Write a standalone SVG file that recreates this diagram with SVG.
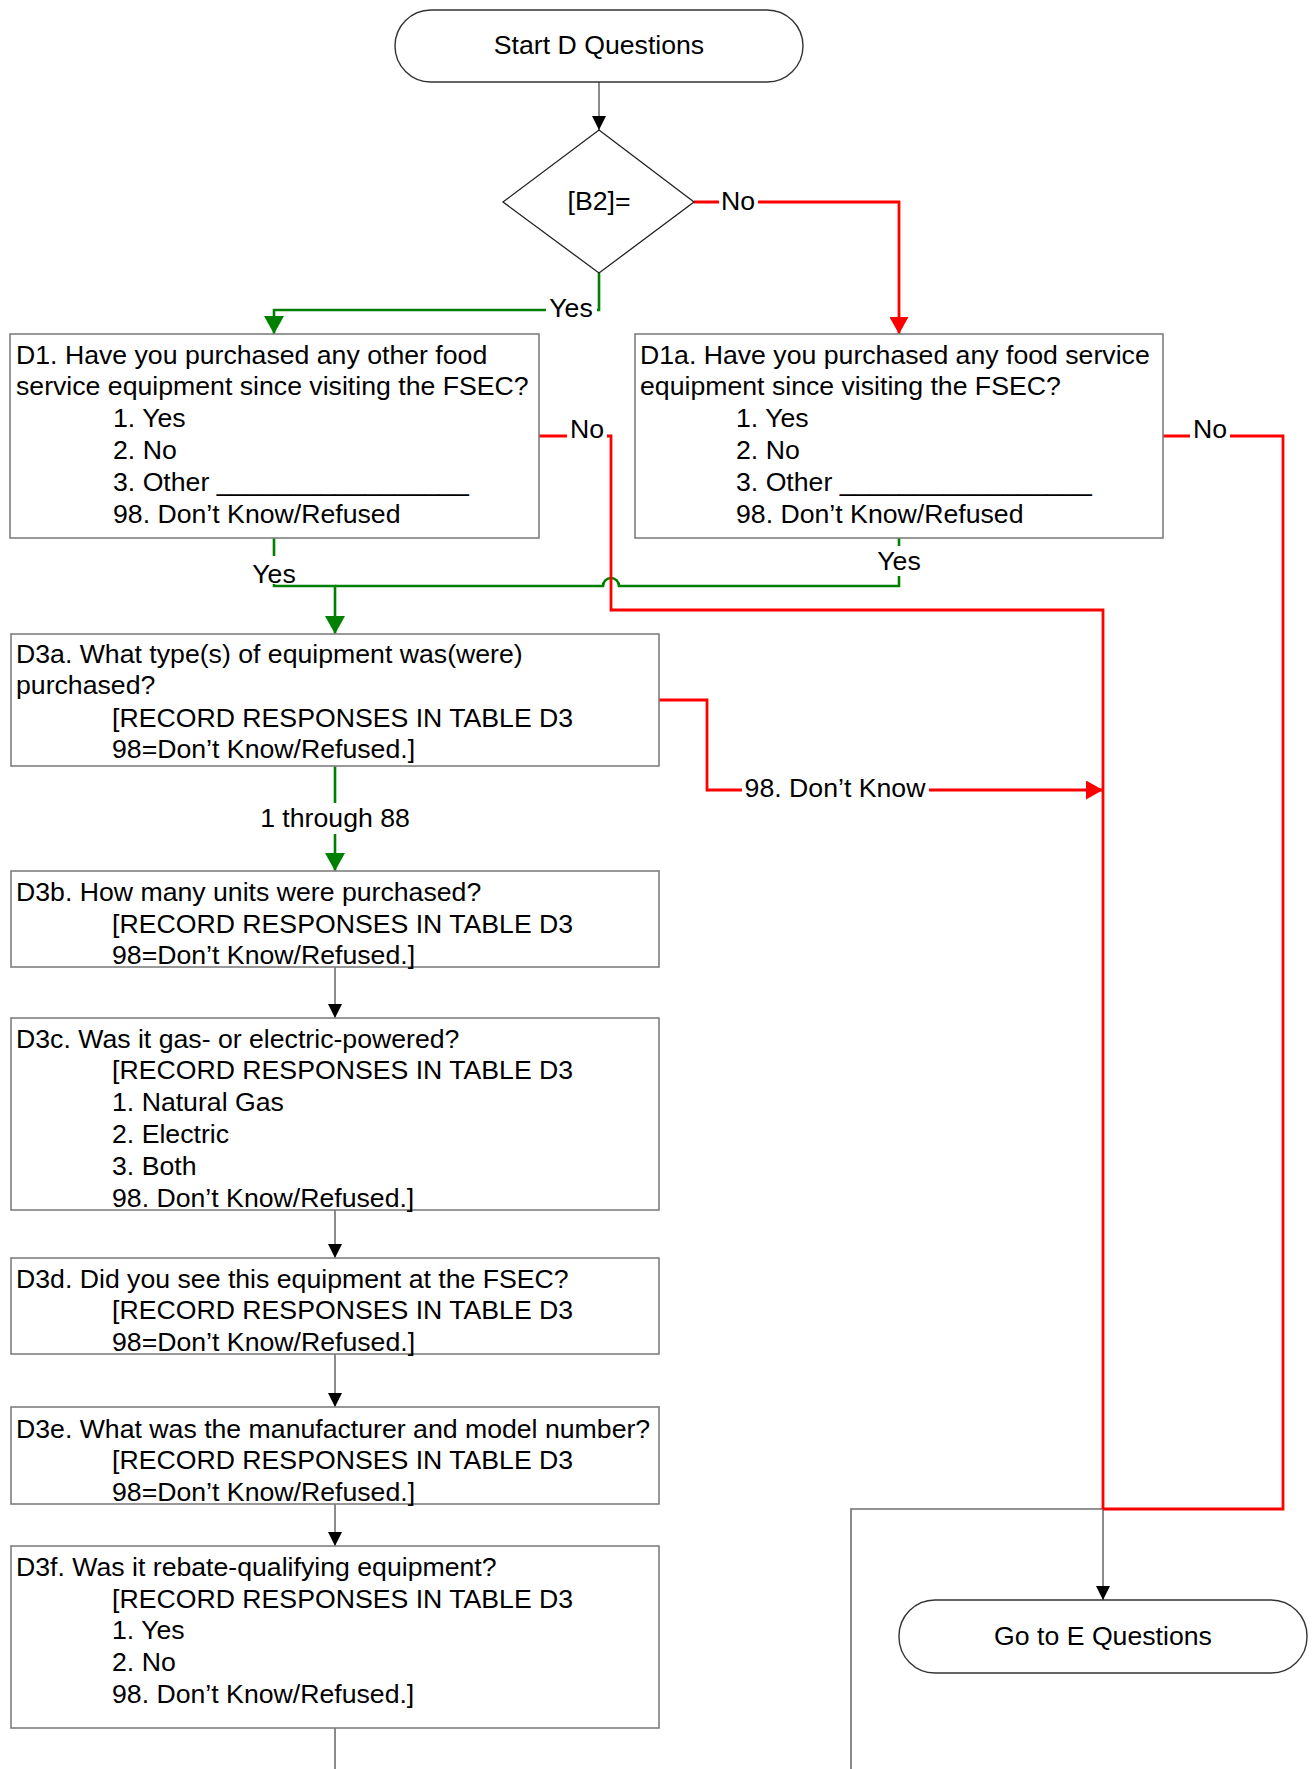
<svg xmlns="http://www.w3.org/2000/svg" width="1313" height="1769" viewBox="0 0 1313 1769">
  <style>
    text { font-family: "Liberation Sans", Arial, sans-serif; font-size: 26.67px; fill: #000; }
    .mid { text-anchor: middle; }
    .box { fill: #fff; stroke: #7f7f7f; stroke-width: 1.6; }
    .box-text { transform: translate(0px, 1px); }
    .term { fill: #fff; stroke: #333; stroke-width: 1.4; }
    .dia { fill: #fff; stroke: #222; stroke-width: 1.3; }
    .c-gray { fill: none; stroke: #6e6e6e; stroke-width: 1.6; }
    .c-red { fill: none; stroke: #ff0000; stroke-width: 2.8; }
    .c-green { fill: none; stroke: #008000; stroke-width: 2.6; }
    .lbl-bg { fill: #fff; }
  </style>
  <defs>
    <marker id="arr-black" viewBox="0 0 14 14" refX="14" refY="7" markerWidth="14" markerHeight="14" markerUnits="userSpaceOnUse" orient="auto">
      <path d="M0,0 L14,7 L0,14 z" fill="#000"/>
    </marker>
    <marker id="arr-red" viewBox="0 0 17 19" refX="17" refY="9.5" markerWidth="17" markerHeight="19" markerUnits="userSpaceOnUse" orient="auto">
      <path d="M0,0 L17,9.5 L0,19 z" fill="#ff0000"/>
    </marker>
    <marker id="arr-green" viewBox="0 0 18 20" refX="18" refY="10" markerWidth="18" markerHeight="20" markerUnits="userSpaceOnUse" orient="auto">
      <path d="M0,0 L18,10 L0,20 z" fill="#008000"/>
    </marker>
  </defs>

  <!-- connectors -->
  <g id="connectors">
    <!-- black flow -->
    <path class="c-gray" d="M599,82 V130" marker-end="url(#arr-black)"/>
    <path class="c-gray" d="M335,967 V1018" marker-end="url(#arr-black)"/>
    <path class="c-gray" d="M335,1210 V1258" marker-end="url(#arr-black)"/>
    <path class="c-gray" d="M335,1354 V1407" marker-end="url(#arr-black)"/>
    <path class="c-gray" d="M335,1504 V1546" marker-end="url(#arr-black)"/>
    <path class="c-gray" d="M335,1728 V1769"/>
    <path class="c-gray" d="M1103,1509 V1600" marker-end="url(#arr-black)"/>
    <path class="c-gray" d="M1103,1509 H851 V1769"/>

    <!-- green (yes) branches -->
    <path class="c-green" d="M599,273 V310 H274 V334" marker-end="url(#arr-green)"/>
    <path class="c-green" d="M274,538 V586 H335 V634" marker-end="url(#arr-green)"/>
    <path class="c-green" d="M899,538 V586 H619 A8,8 0 0 0 603,586 H335"/>
    <path class="c-green" d="M335,766 V871" marker-end="url(#arr-green)"/>

    <!-- red (no / don't know) branches -->
    <path class="c-red" d="M694,202 H899 V334" marker-end="url(#arr-red)"/>
    <path class="c-red" d="M539,436 H611 V610 H1103 V1509"/>
    <path class="c-red" d="M1163,436 H1283 V1509 H1103"/>
    <path class="c-red" d="M659,700 H707 V790 H1103" marker-end="url(#arr-red)"/>

    <!-- connector labels -->
    <rect class="lbl-bg" x="719" y="189" width="39" height="25"/>
    <text class="mid" x="738" y="210">No</text>
    <rect class="lbl-bg" x="546" y="296" width="51" height="24"/>
    <text class="mid" x="571" y="317">Yes</text>
    <rect class="lbl-bg" x="567" y="416" width="40" height="24"/>
    <text class="mid" x="587" y="438">No</text>
    <rect class="lbl-bg" x="1190" y="416" width="40" height="24"/>
    <text class="mid" x="1210" y="438">No</text>
    <rect class="lbl-bg" x="249" y="556" width="50" height="28"/>
    <text class="mid" x="274" y="583">Yes</text>
    <rect class="lbl-bg" x="874" y="546" width="50" height="30"/>
    <text class="mid" x="899" y="570">Yes</text>
    <rect class="lbl-bg" x="742" y="777" width="187" height="26"/>
    <text class="mid" x="835" y="797">98. Don’t Know</text>
    <rect class="lbl-bg" x="255" y="803" width="160" height="31"/>
    <text class="mid" x="335" y="827">1 through 88</text>
  </g>

  <!-- nodes -->
  <g id="start">
    <rect class="term" x="395" y="10" width="408" height="72" rx="36" ry="36"/>
    <text class="mid" x="599" y="54">Start D Questions</text>
  </g>

  <g id="b2-check">
    <polygon class="dia" points="599,130 694,202 599,273 503,202"/>
    <text class="mid" x="599" y="210">[B2]=</text>
  </g>

  <g id="d1">
    <rect class="box" x="10" y="334" width="529" height="204"/>
    <g class="box-text">
      <text x="16" y="363">D1. Have you purchased any other food</text>
      <text x="16" y="394">service equipment since visiting the FSEC?</text>
      <text x="113" y="426">1. Yes</text>
      <text x="113" y="458">2. No</text>
      <text x="113" y="490">3. Other _________________</text>
      <text x="113" y="522">98. Don’t Know/Refused</text>
    </g>
  </g>

  <g id="d1a">
    <rect class="box" x="635" y="334" width="528" height="204"/>
    <g class="box-text">
      <text x="640" y="363">D1a. Have you purchased any food service</text>
      <text x="640" y="394">equipment since visiting the FSEC?</text>
      <text x="736" y="426">1. Yes</text>
      <text x="736" y="458">2. No</text>
      <text x="736" y="490">3. Other _________________</text>
      <text x="736" y="522">98. Don’t Know/Refused</text>
    </g>
  </g>

  <g id="d3a">
    <rect class="box" x="11" y="634" width="648" height="132"/>
    <g class="box-text">
      <text x="16" y="662">D3a. What type(s) of equipment was(were)</text>
      <text x="16" y="693">purchased?</text>
      <text x="112" y="726">[RECORD RESPONSES IN TABLE D3</text>
      <text x="112" y="757">98=Don’t Know/Refused.]</text>
    </g>
  </g>

  <g id="d3b">
    <rect class="box" x="11" y="871" width="648" height="96"/>
    <g class="box-text">
      <text x="16" y="900">D3b. How many units were purchased?</text>
      <text x="112" y="932">[RECORD RESPONSES IN TABLE D3</text>
      <text x="112" y="963">98=Don’t Know/Refused.]</text>
    </g>
  </g>

  <g id="d3c">
    <rect class="box" x="11" y="1018" width="648" height="192"/>
    <g class="box-text">
      <text x="16" y="1047">D3c. Was it gas- or electric-powered?</text>
      <text x="112" y="1078">[RECORD RESPONSES IN TABLE D3</text>
      <text x="112" y="1110">1. Natural Gas</text>
      <text x="112" y="1142">2. Electric</text>
      <text x="112" y="1174">3. Both</text>
      <text x="112" y="1206">98. Don’t Know/Refused.]</text>
    </g>
  </g>

  <g id="d3d">
    <rect class="box" x="11" y="1258" width="648" height="96"/>
    <g class="box-text">
      <text x="16" y="1287">D3d. Did you see this equipment at the FSEC?</text>
      <text x="112" y="1318">[RECORD RESPONSES IN TABLE D3</text>
      <text x="112" y="1350">98=Don’t Know/Refused.]</text>
    </g>
  </g>

  <g id="d3e">
    <rect class="box" x="11" y="1407" width="648" height="97"/>
    <g class="box-text">
      <text x="16" y="1437">D3e. What was the manufacturer and model number?</text>
      <text x="112" y="1468">[RECORD RESPONSES IN TABLE D3</text>
      <text x="112" y="1500">98=Don’t Know/Refused.]</text>
    </g>
  </g>

  <g id="d3f">
    <rect class="box" x="11" y="1546" width="648" height="182"/>
    <g class="box-text">
      <text x="16" y="1575">D3f. Was it rebate-qualifying equipment?</text>
      <text x="112" y="1607">[RECORD RESPONSES IN TABLE D3</text>
      <text x="112" y="1638">1. Yes</text>
      <text x="112" y="1670">2. No</text>
      <text x="112" y="1702">98. Don’t Know/Refused.]</text>
    </g>
  </g>

  <g id="goto-e">
    <rect class="term" x="899" y="1600" width="408" height="73" rx="36" ry="36"/>
    <text class="mid" x="1103" y="1645">Go to E Questions</text>
  </g>
</svg>
